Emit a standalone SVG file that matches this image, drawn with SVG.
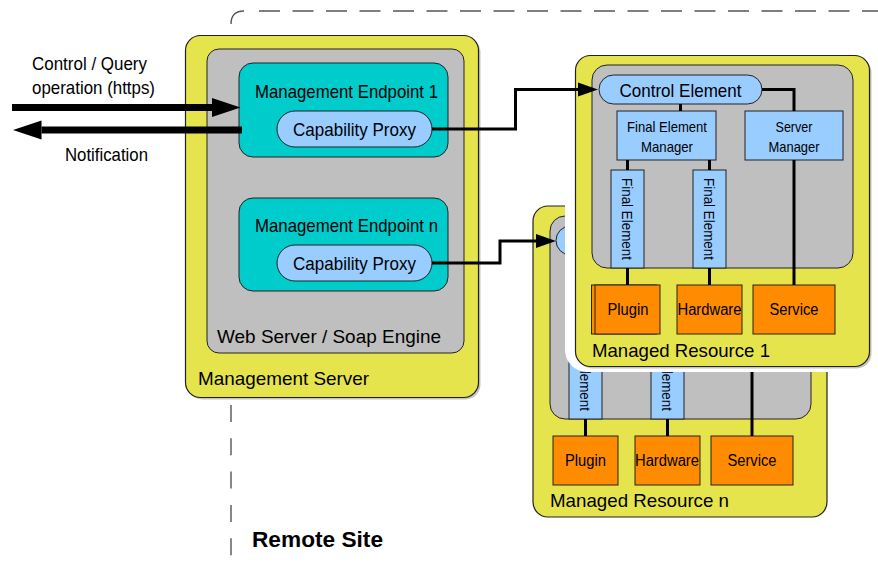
<svg xmlns="http://www.w3.org/2000/svg" width="878" height="565" viewBox="0 0 878 565">
<style>
text{font-family:"Liberation Sans",Arial,Helvetica,sans-serif;fill:#000}
.yel{fill:#e6e44c;stroke:#222;stroke-width:1.2}
.gry{fill:#bfbfbf;stroke:#222;stroke-width:1}
.teal{fill:#00cccc;stroke:#222;stroke-width:1}
.blue{fill:#99ccff;stroke:#222;stroke-width:1}
.org{fill:#ff8c00;stroke:#222;stroke-width:1}
.shadow{fill:#888;opacity:0.5}
.big{font-size:19px}
.mid{font-size:19px}
.sml{font-size:15px}
.rot{font-size:15.5px}
.box{font-size:16px}
.c{text-anchor:middle}
.link{fill:none;stroke:#000;stroke-width:3}
.fat{fill:none;stroke:#000;stroke-width:7}
.dash{fill:none;stroke:#555;stroke-width:1.4}
</style>
<defs>
<marker id="bighead" markerUnits="userSpaceOnUse" markerWidth="29" markerHeight="20" refX="0" refY="9.5" orient="auto" overflow="visible">
<path d="M0,0 L28.5,9.5 L0,19 z" fill="#000"/>
</marker>
<marker id="head" markerUnits="userSpaceOnUse" markerWidth="21" markerHeight="15" refX="0" refY="7" orient="auto" overflow="visible">
<path d="M0,0 L20,7 L0,14 z" fill="#000"/>
</marker>
</defs>

<g id="remote-site">
<path class="dash" d="M231,24 Q231,11 244,11"/>
<line class="dash" x1="259" y1="11" x2="878" y2="11" stroke-dasharray="21 12.5"/>
<line class="dash" x1="231" y1="405" x2="231" y2="556" stroke-dasharray="17 16.3"/>
<text x="252" y="547" style="font-size:22px;font-weight:bold" textLength="131" lengthAdjust="spacingAndGlyphs">Remote Site</text>
</g>

<g id="management-server">
<rect class="shadow" x="187.5" y="37.5" width="293" height="362" rx="15"/>
<rect class="yel" x="185.5" y="35.5" width="293" height="362" rx="15"/>
<text class="big" x="198" y="385" textLength="171" lengthAdjust="spacingAndGlyphs">Management Server</text>
</g>
<g id="web-server">
<rect class="gry" x="207" y="49" width="257" height="304" rx="12"/>
<text class="big" x="217" y="343" textLength="224" lengthAdjust="spacingAndGlyphs">Web Server / Soap Engine</text>
</g>
<g id="endpoint-1">
<rect class="teal" x="239" y="63" width="209" height="94" rx="14"/>
<text class="mid" x="255" y="98" textLength="183" lengthAdjust="spacingAndGlyphs">Management Endpoint 1</text>
</g>
<g id="proxy-1">
<rect class="blue" x="277" y="111" width="155" height="36" rx="18"/>
<text class="mid c" x="354.5" y="136" textLength="123" lengthAdjust="spacingAndGlyphs">Capability Proxy</text>
</g>
<g id="endpoint-n">
<rect class="teal" x="239" y="198" width="209" height="93" rx="14"/>
<text class="mid" x="255" y="232" textLength="183" lengthAdjust="spacingAndGlyphs">Management Endpoint n</text>
</g>
<g id="proxy-n">
<rect class="blue" x="277" y="245" width="155" height="36" rx="18"/>
<text class="mid c" x="354.5" y="270" textLength="123" lengthAdjust="spacingAndGlyphs">Capability Proxy</text>
</g>

<g id="managed-resource-n">
<rect class="yel" x="533" y="206" width="294" height="311" rx="15"/>
<rect class="gry" x="550" y="216" width="261" height="203" rx="15"/>
<rect class="blue" x="556" y="226" width="163" height="29" rx="14.5"/>
<rect class="blue" x="569" y="321" width="33" height="98"/>
<text class="rot c" transform="translate(585.5,370) rotate(90)" y="5.5" textLength="82" lengthAdjust="spacingAndGlyphs">Final Element</text>
<rect class="blue" x="651" y="321" width="33" height="98"/>
<text class="rot c" transform="translate(667.5,370) rotate(90)" y="5.5" textLength="82" lengthAdjust="spacingAndGlyphs">Final Element</text>
<text class="big" x="550" y="507" textLength="179" lengthAdjust="spacingAndGlyphs">Managed Resource n</text>
</g>
<g id="plugin-n">
<rect class="org" x="553" y="436" width="65" height="49"/>
<text class="box c" x="585.5" y="466" textLength="41" lengthAdjust="spacingAndGlyphs">Plugin</text>
</g>
<g id="hardware-n">
<rect class="org" x="635" y="436" width="65" height="49"/>
<text class="box c" x="667" y="466" textLength="64" lengthAdjust="spacingAndGlyphs">Hardware</text>
</g>
<g id="service-n">
<rect class="org" x="711" y="436" width="82" height="49"/>
<text class="box c" x="752" y="466" textLength="49" lengthAdjust="spacingAndGlyphs">Service</text>
</g>

<g id="managed-resource-1">
<rect x="565" y="45" width="320" height="327" rx="22" fill="#fff"/>
<rect class="shadow" x="577.5" y="57.5" width="294" height="311" rx="15"/>
<rect class="yel" x="575.5" y="55.5" width="294" height="311" rx="15"/>
<rect class="gry" x="592" y="65" width="261" height="203" rx="15"/>
<text class="big" x="592" y="357" textLength="178" lengthAdjust="spacingAndGlyphs">Managed Resource 1</text>
</g>
<g id="control-element">
<rect class="blue" x="599" y="75" width="163" height="29" rx="14.5"/>
<text class="mid c" x="680.5" y="96.5" textLength="122" lengthAdjust="spacingAndGlyphs">Control Element</text>
</g>
<g id="final-element-manager">
<rect class="blue" x="617" y="111" width="99" height="49"/>
<text class="sml c" x="667" y="132" textLength="80" lengthAdjust="spacingAndGlyphs">Final Element</text>
<text class="sml c" x="667" y="152" textLength="52" lengthAdjust="spacingAndGlyphs">Manager</text>
</g>
<g id="server-manager">
<rect class="blue" x="745" y="111" width="98" height="49"/>
<text class="sml c" x="794" y="132" textLength="37" lengthAdjust="spacingAndGlyphs">Server</text>
<text class="sml c" x="794" y="152" textLength="51" lengthAdjust="spacingAndGlyphs">Manager</text>
</g>
<g id="final-element-1">
<rect class="blue" x="611" y="170" width="33" height="98"/>
<text class="rot c" transform="translate(627.5,219) rotate(90)" y="5.5" textLength="82" lengthAdjust="spacingAndGlyphs">Final Element</text>
</g>
<g id="final-element-2">
<rect class="blue" x="693" y="170" width="33" height="98"/>
<text class="rot c" transform="translate(709.5,219) rotate(90)" y="5.5" textLength="82" lengthAdjust="spacingAndGlyphs">Final Element</text>
</g>
<g id="plugin-1">
<rect class="org" x="591.5" y="285" width="65" height="49"/>
<rect class="org" x="595" y="285" width="65" height="49"/>
<text class="box c" x="628" y="315" textLength="41" lengthAdjust="spacingAndGlyphs">Plugin</text>
</g>
<g id="hardware-1">
<rect class="org" x="677" y="285" width="65" height="49"/>
<text class="box c" x="709.5" y="315" textLength="64" lengthAdjust="spacingAndGlyphs">Hardware</text>
</g>
<g id="service-1">
<rect class="org" x="753" y="285" width="82" height="49"/>
<text class="box c" x="794" y="315" textLength="49" lengthAdjust="spacingAndGlyphs">Service</text>
</g>

<g id="connectors">
<line class="fat" x1="12" y1="107.5" x2="212" y2="107.5" marker-end="url(#bighead)"/>
<line class="fat" x1="242" y1="130" x2="41.5" y2="130" marker-end="url(#bighead)"/>
<path class="link" d="M432,129 H515.5 V89.5 H578" marker-end="url(#head)"/>
<path class="link" d="M432,263 H500 V241 H536" marker-end="url(#head)"/>
<path class="link" d="M680.5,104 V111"/>
<path class="link" d="M762,89.5 H794 V111"/>
<path class="link" d="M794,160 V285"/>
<path class="link" d="M627.5,160 V170 M709.5,160 V170"/>
<path class="link" d="M627.5,268 V285 M709.5,268 V285"/>
<path class="link" d="M585.5,419 V436 M667.5,419 V436"/>
<path class="link" d="M752,372 V436"/>
</g>

<g id="labels">
<text class="mid" x="32" y="69.5" textLength="115" lengthAdjust="spacingAndGlyphs">Control / Query</text>
<text class="mid" x="32" y="94" textLength="123" lengthAdjust="spacingAndGlyphs">operation (https)</text>
<text class="mid" x="65" y="160.5" textLength="83" lengthAdjust="spacingAndGlyphs">Notification</text>
</g>
</svg>
